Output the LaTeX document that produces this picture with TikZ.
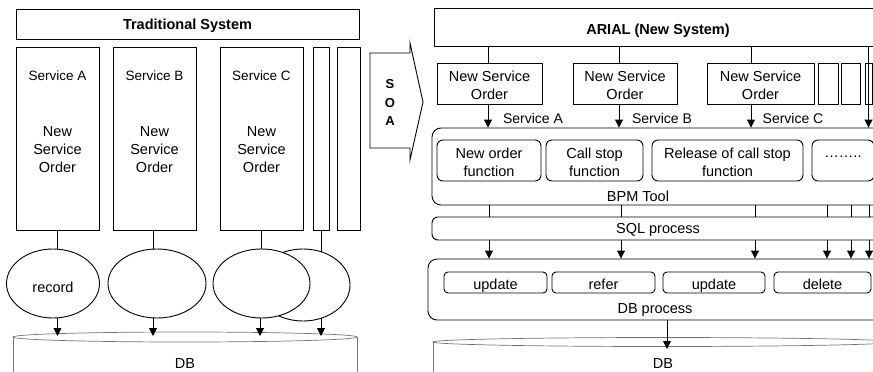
\documentclass[tikz,border=0pt]{standalone}
\usepackage{fontspec}
\setmainfont{Liberation Sans}
\usetikzlibrary{arrows.meta,shapes.geometric}

\begin{document}
\begin{tikzpicture}[x=1pt,y=-1pt,
  lw/.style={line width=0.9pt},
  box/.style={draw, lw, inner sep=0pt},
  rbox/.style={box, rounded corners=6pt},
  oval/.style={draw, lw, fill=white, ellipse, inner sep=0pt},
  txt/.style={font=\fontsize{14.5}{17.5}\selectfont, align=center, inner sep=0pt, yshift=-1.8pt},
  btxt/.style={txt, font=\fontsize{14.5}{17.5}\selectfont\bfseries},
  optxt/.style={txt, anchor=base, yshift=0pt},
  arr/.style={lw, -{Triangle[length=8pt,width=8pt]}},
  dbline/.style={line width=0.7pt, black!55}
]
\useasboundingbox (0,0) rectangle (873,372);
\clip (0,0) rectangle (873,372);

% ---------------- Traditional system ----------------
\node[box, minimum width=343pt, minimum height=30pt] (trad) at (187.5,24) {};
\node[btxt] (tradT) at (187.5,24) {Traditional System};

\node[box, minimum width=83pt, minimum height=183pt] (svcA) at (57.5,138.5) {};
\node[box, minimum width=83pt, minimum height=183pt] (svcB) at (154.5,138.5) {};
\node[box, minimum width=83pt, minimum height=183pt] (svcC) at (261.5,138.5) {};
\node[box, minimum width=16pt, minimum height=183pt] (thinA) at (321,138.5) {};
\node[box, minimum width=23pt, minimum height=183pt] (thinB) at (348.5,138.5) {};

\node[txt, font=\fontsize{13.5}{17}\selectfont] (svcAT) at (57.5,74) {Service A};
\node[txt, font=\fontsize{13.5}{17}\selectfont] (svcBT) at (154.5,74) {Service B};
\node[txt, font=\fontsize{13.5}{17}\selectfont] (svcCT) at (261.5,74) {Service C};
\node[txt, font=\fontsize{14.5}{18}\selectfont] (nsoAT) at (57.5,148) {New\\Service\\Order};
\node[txt, font=\fontsize{14.5}{18}\selectfont] (nsoBT) at (154.5,148) {New\\Service\\Order};
\node[txt, font=\fontsize{14.5}{18}\selectfont] (nsoCT) at (261.5,148) {New\\Service\\Order};

% record stores
\node[oval, minimum width=94pt, minimum height=72pt] (ellD) at (303,285) {};
\node[oval, minimum width=97pt, minimum height=69pt] (ellC) at (261.5,283.5) {};
\node[oval, minimum width=93pt, minimum height=69pt] (ellA) at (53,283.5) {};
\node[oval, minimum width=98pt, minimum height=69pt] (ellB) at (157,283.5) {};
\node[txt] (recT) at (53,286) {record};

% legacy database
\draw[dbline] (13,337) -- (13,380);
\draw[dbline] (357,337) -- (357,380);
\draw[dbline] (185,337) ellipse [x radius=172, y radius=5];
\coordinate (dbLtop) at (185,336);
\node[txt] (dbL) at (185,362) {DB};

\draw[lw] (svcA.south) -- (svcA.south |- ellA.north);
\draw[lw] (svcB.south -| 153,0) -- (ellB.north -| 153,0);
\draw[lw] (svcC.south) -- (svcC.south |- ellC.north);
\draw[lw] (thinA.south) -- (thinA.south |- ellD.60);

\draw[arr] (svcA.south |- ellA.south) -- (svcA.south |- dbLtop);
\draw[arr] (ellB.south -| 153,0) -- (dbLtop -| 153,0);
\draw[arr] (ellC.south -| 260,0) -- (dbLtop -| 260,0);
\draw[arr] (thinA.south |- ellD.-60) -- (thinA.south |- dbLtop);

% ---------------- SOA migration arrow ----------------
\draw[lw] (370,53) -- (410,53) -- (410,43) -- (423,102) -- (410,160)
  -- (410,148) -- (370,148) -- cycle;
\node[btxt, font=\fontsize{13}{18.5}\selectfont\bfseries] (soa) at (390,101) {S\\O\\A};

% ---------------- New system ----------------
\node[box, minimum width=448pt, minimum height=38pt] (arial) at (658,27) {};
\node[btxt] (arialT) at (658,29) {ARIAL (New System)};

\node[box, minimum width=105pt, minimum height=41pt] (nso1) at (489.5,83.5) {};
\node[box, minimum width=104pt, minimum height=41pt] (nso2) at (625,83.5) {};
\node[box, minimum width=107pt, minimum height=41pt] (nso3) at (760.5,83.5) {};
\node[box, minimum width=20pt, minimum height=41pt] (nso4) at (828,83.5) {};
\node[box, minimum width=19pt, minimum height=41pt] (nso5) at (850.5,83.5) {};
\node[box, minimum width=7pt, minimum height=41pt] (nso6) at (868.5,83.5) {};
\node[txt] (nso1T) at (nso1) {New Service\\Order};
\node[txt] (nso2T) at (nso2) {New Service\\Order};
\node[txt] (nso3T) at (nso3) {New Service\\Order};

\node[txt, font=\fontsize{14}{17}\selectfont] (labA) at (533,117) {Service A};
\node[txt, font=\fontsize{14}{17}\selectfont] (labB) at (662,117) {Service B};
\node[txt, font=\fontsize{14}{17}\selectfont] (labC) at (793,117) {Service C};

% BPM tool
\node[box, rounded corners=9pt, minimum width=458pt, minimum height=77pt] (bpm) at (661,166.5) {};
\node[rbox, minimum width=104pt, minimum height=41pt] (fnNew) at (489,160.5) {};
\node[rbox, minimum width=97pt, minimum height=41pt] (fnStop) at (594.5,160.5) {};
\node[rbox, minimum width=151pt, minimum height=41pt] (fnRel) at (727.5,160.5) {};
\node[rbox, minimum width=62pt, minimum height=41pt] (fnMore) at (843,160.5) {};
\node[txt] (fnNewT) at (fnNew) {New order\\function};
\node[txt] (fnStopT) at (fnStop) {Call stop\\function};
\node[txt] (fnRelT) at (fnRel) {Release of call stop\\function};
\node[optxt] (fnMoreT) at (843,156) {……..};
\node[txt] (bpmT) at (638,195) {BPM Tool};

% SQL process
\node[box, rounded corners=6pt, minimum width=458pt, minimum height=23pt] (sql) at (661,228.5) {};
\node[txt] (sqlT) at (658,228) {SQL process};

% DB process
\node[box, rounded corners=9pt, minimum width=462pt, minimum height=61pt] (dbp) at (659,289.5) {};
\node[box, rounded corners=4pt, minimum width=103pt, minimum height=21pt] (op1) at (495.5,282.5) {};
\node[box, rounded corners=4pt, minimum width=103pt, minimum height=21pt] (op2) at (603.5,282.5) {};
\node[box, rounded corners=4pt, minimum width=102pt, minimum height=21pt] (op3) at (714,282.5) {};
\node[box, rounded corners=4pt, minimum width=97pt, minimum height=21pt] (op4) at (822.5,282.5) {};
\node[optxt] (op1T) at (495.5,287.5) {update};
\node[optxt] (op2T) at (603.5,287.5) {refer};
\node[optxt] (op3T) at (714,287.5) {update};
\node[optxt] (op4T) at (822.5,287.5) {delete};
\node[txt] (dbpT) at (655,308) {DB process};

% new database
\draw[dbline] (433,342) -- (433,380);
\draw[dbline] (663,342) ellipse [x radius=230, y radius=4.5];
\coordinate (dbRtop) at (667,349);
\node[txt] (dbR) at (663,362) {DB};

% service columns
\coordinate (cA) at (488,0);
\coordinate (cB) at (619,0);
\coordinate (cC) at (751,0);
\coordinate (cD) at (868.5,0);
\foreach \c/\b in {cA/nso1, cB/nso2, cC/nso3, cD/nso6} {
  \draw[lw] (arial.south -| \c) -- (\b.north -| \c);
  \draw[arr] (\b.south -| \c) -- (bpm.north -| \c);
}
\draw[lw] (nso6.north -| cD) -- (nso6.south -| cD);

% BPM -> SQL -> DB process
\foreach \x in {489,621,755,827,851,869} {
  \coordinate (q) at (\x,0);
  \draw[lw] (bpm.south -| q) -- (sql.north -| q);
  \draw[arr] (sql.south -| q) -- (dbp.north -| q);
}

\draw[arr] (dbp.south -| dbRtop) -- (dbRtop);
\end{tikzpicture}
\end{document}
